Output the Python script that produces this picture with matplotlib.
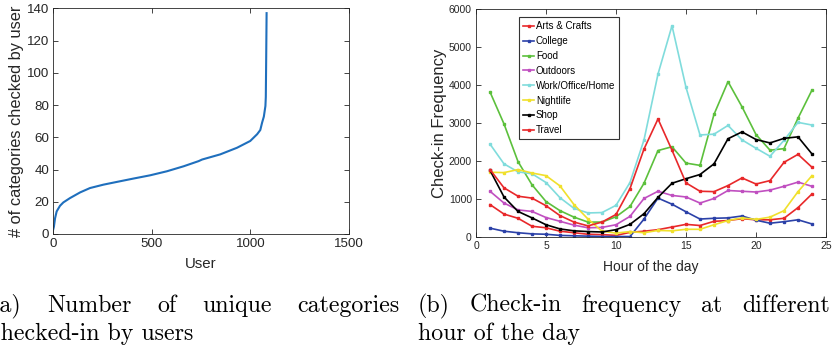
import numpy as np
import matplotlib
matplotlib.use("Agg")
import matplotlib.pyplot as plt

plt.rcParams['font.family'] = ['Liberation Sans', 'DejaVu Sans']

# (a) sorted number of unique categories per user
users = [0, 3, 9, 17, 34, 51, 85, 136, 186, 254, 322, 407, 491, 576, 661, 737,
         755, 847, 932, 999, 1034, 1050, 1059, 1068, 1076, 1078, 1080, 1082]
n_categories = [3, 4.5, 9.8, 14, 17.5, 19.6, 22.3, 25.8, 28.5, 30.6, 32.3, 34.4,
                36.4, 38.9, 42, 45.2, 46.2, 49.4, 53.5, 57.7, 61.9, 64.5, 69,
                72.8, 79.4, 85, 110, 137]

# (b) check-in frequency per hour
hours = list(range(1, 25))
arts_crafts = [860, 610, 500, 290, 250, 160, 120, 80, 70, 50, 130, 160,
               200, 270, 340, 310, 420, 440, 490, 460, 460, 500, 780, 1140]
college = [240, 160, 120, 90, 80, 50, 40, 30, 20, 20, 20, 480,
           1030, 870, 670, 480, 500, 510, 560, 450, 370, 410, 460, 350]
food = [3820, 2980, 1990, 1380, 940, 700, 530, 400, 400, 540, 810, 1420,
        2280, 2380, 1950, 1890, 3230, 4090, 3430, 2700, 2290, 2330, 3130, 3870]
outdoors = [1210, 900, 720, 680, 520, 420, 320, 250, 260, 330, 550, 1020,
            1210, 1100, 1060, 900, 1020, 1230, 1210, 1190, 1240, 1340, 1450, 1340]
work = [2450, 1930, 1720, 1670, 1440, 1040, 760, 640, 650, 840, 1440, 2560,
        4290, 5560, 3940, 2690, 2710, 2940, 2560, 2340, 2130, 2550, 3020, 2950]
nightlife = [1710, 1700, 1780, 1690, 1620, 1350, 860, 480, 160, 110, 150, 120,
             180, 170, 210, 210, 330, 440, 510, 470, 530, 700, 1200, 1620]
shop = [1760, 1060, 680, 510, 330, 220, 170, 150, 140, 200, 340, 620,
        1050, 1420, 1540, 1650, 1930, 2590, 2770, 2570, 2480, 2600, 2640, 2190]
travel = [1780, 1300, 1080, 1030, 830, 570, 400, 300, 400, 600, 1280, 2320,
          3110, 2290, 1430, 1210, 1200, 1360, 1560, 1400, 1490, 1970, 2180, 1840]

series_names = ['Arts & Crafts', 'College', 'Food', 'Outdoors',
                'Work/Office/Home', 'Nightlife', 'Shop', 'Travel']
series_values = [arts_crafts, college, food, outdoors, work, nightlife, shop, travel]
series_colors = ['#e8282a', '#2b41a8', '#5cc03c', '#c04fc0',
                 '#80dcdc', '#f0e02c', '#000000', '#e8282a']

W, H = 834, 351
fig = plt.figure(figsize=(W / 100, H / 100), dpi=100)

axis_color = '#262626'


def style_axes(ax, fs):
    ax.tick_params(direction='in', length=3.5, width=0.6, top=True, right=True,
                   labelsize=fs, colors=axis_color, pad=3)
    for s in ax.spines.values():
        s.set_linewidth(0.6)
        s.set_color(axis_color)


# panel (a)
ax1 = fig.add_axes([53.3 / W, 1 - 234 / H, 295.7 / W, 225.7 / H])
ax1.plot(users, n_categories, color='#1f6fbd', lw=1.5)
ax1.set_xlim(0, 1500)
ax1.set_ylim(0, 140)
ax1.set_xticks([0, 500, 1000, 1500])
ax1.set_yticks(range(0, 141, 20))
style_axes(ax1, 9.6)
ax1.set_xlabel('User', fontsize=10.8, color=axis_color, labelpad=5)
ax1.set_ylabel('# of categories checked by user', fontsize=11.8, color=axis_color, labelpad=2)

# panel (b)
ax2 = fig.add_axes([476 / W, 1 - 237.3 / H, 350 / W, 228.3 / H])
for name, vals, c in zip(series_names, series_values, series_colors):
    ax2.plot(hours, vals, color=c, lw=1.2, marker='s', ms=2.0, label=name)
ax2.set_xlim(0, 25)
ax2.set_ylim(0, 6000)
ax2.set_xticks(range(0, 26, 5))
ax2.set_yticks(range(0, 6001, 1000))
style_axes(ax2, 7.5)
ax2.set_xlabel('Hour of the day', fontsize=10, color=axis_color, labelpad=6)
ax2.set_ylabel('Check-in Frequency', fontsize=12, color=axis_color, labelpad=1)
leg = ax2.legend(loc='upper left', bbox_to_anchor=(0.124, 0.9636), borderaxespad=0,
                 fontsize=7, handlelength=1.1, handletextpad=0.2, labelspacing=0.5,
                 borderpad=0.4, fancybox=False, framealpha=1)
leg.get_frame().set_edgecolor('#333333')
leg.get_frame().set_linewidth(0.8)

# captions, first lines justified like the LaTeX subcaptions
renderer = fig.canvas.get_renderer()
cap_fs = 17.2


def justified(words, x0, x1, y):
    texts = [fig.text(0, 1 - y / H, w, fontsize=cap_fs, family='cmr10', va='baseline')
             for w in words]
    widths = [t.get_window_extent(renderer).width for t in texts]
    gap = (x1 - x0 - sum(widths)) / (len(words) - 1)
    x = x0
    for t, w in zip(texts, widths):
        t.set_x(x / W)
        x += w + gap


justified(['(a)', 'Number', 'of', 'unique', 'categories'], -9, 400, 312)
fig.text(-10 / W, 1 - 340 / H, 'checked-in by users', fontsize=cap_fs, family='cmr10', va='baseline')
justified(['(b)', 'Check-in', 'frequency', 'at', 'different'], 417.7, 830, 312)
fig.text(418 / W, 1 - 340 / H, 'hour of the day', fontsize=cap_fs, family='cmr10', va='baseline')

fig.savefig('out.png', dpi=100)
